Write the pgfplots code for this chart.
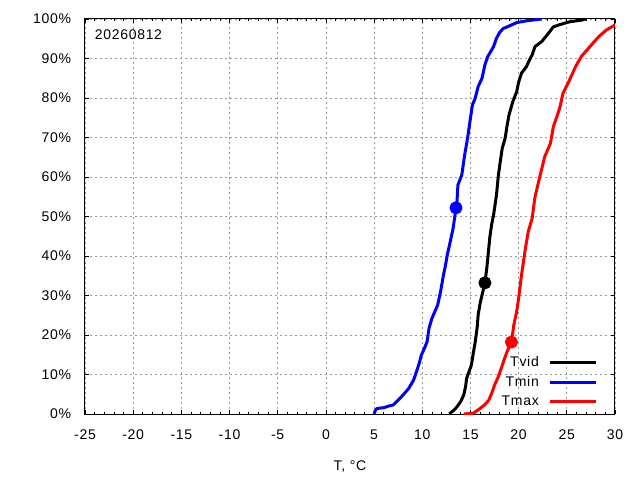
\documentclass[border=0pt]{standalone}
\usepackage{pgfplots}
\pgfplotsset{compat=1.18}
\usepackage{fontspec}
\setmainfont[LetterSpace=5]{Liberation Sans}
\begin{document}
\fontsize{14}{16}\selectfont
\begin{tikzpicture}
\begin{axis}[
  scale only axis,
  width=530pt, height=395pt,
  xmin=-25, xmax=30, ymin=0, ymax=100,
  xtick={-25,-20,...,30},
  xticklabels={-25,-20,-15,-10,-5,0,5,10,15,20,25,30},
  minor x tick num=4,
  ytick={0,10,...,100},
  yticklabels={0\%,10\%,20\%,30\%,40\%,50\%,60\%,70\%,80\%,90\%,100\%},
  tick align=inside,
  major tick length=4pt,
  minor tick length=2.5pt,
  tick style={black, line width=0.8pt},
  axis line style={black, line width=1pt},
  grid=major,
  major grid style={gray!80, dash pattern=on 2pt off 3pt, line width=0.8pt},
  xticklabel style={yshift=-11pt},
  yticklabel style={xshift=-9pt},
  xlabel={T, °C},
  xlabel style={yshift=-11pt},
  legend style={draw=none, fill=none, at={(rel axis cs:1,0)}, anchor=south east,
    xshift=-14pt, yshift=2pt, row sep=3.5pt, column sep=8pt,
    font=\fontsize{14}{16}\selectfont,
    cells={anchor=east}},
  legend plot pos=right,
  legend image code/.code={\draw[#1] (0pt,0pt) -- (46pt,0pt);},
  every axis plot/.append style={line width=3pt, line join=round},
  clip=true,
]
% Tvid (black)
\addplot[black, mark=none] coordinates {
(12.8,0) (13.2,0.8) (13.6,1.8) (14.0,3.2) (14.3,4.8) (14.5,7) (14.6,9) (15.1,12.4)
(15.3,15.5) (15.5,18.3) (15.7,22) (15.8,25.1) (16.0,28) (16.2,30.1) (16.5,33.2)
(16.7,37) (16.8,39.4) (17.0,44.5) (17.2,48) (17.4,50.4) (17.7,55.4) (17.9,60.5)
(18.1,64) (18.3,67.3) (18.6,69.8) (18.8,73) (19.0,75.7) (19.4,79.1) (19.8,81.6)
(20.0,84) (20.3,86.3) (20.8,87.9) (21.1,89.5) (21.4,90.9) (21.7,93) (22.4,94.3)
(22.8,95.5) (23.1,96.4) (23.6,98) (24.3,98.6) (25.3,99.3) (26.5,99.7) (27,100)
};
\addlegendentry{Tvid}
% Tmin (blue)
\addplot[blue, mark=none] coordinates {
(5.0,0) (5.1,0.8) (5.3,1.4) (6.0,1.6) (6.5,2.0) (7.0,2.3) (7.5,3.5) (8.0,4.8)
(8.6,6.5) (9.1,8.6) (9.4,10.7) (9.7,13) (9.9,14.9) (10.2,16.5) (10.5,18.3)
(10.7,21.7) (11.0,24.2) (11.6,27.6) (11.9,31) (12.2,35.2) (12.4,37.5) (12.6,40.3)
(12.9,43.6) (13.2,47) (13.4,50.4) (13.5,52.2) (13.6,53.7) (13.7,58) (14.1,60.5)
(14.4,65.6) (14.7,69.8) (15.0,74.9) (15.2,78.2) (15.5,80) (15.8,82.9) (16.2,85)
(16.5,88.4) (16.8,90.5) (17.4,93) (17.7,95.1) (18.0,96.5) (18.4,97.6) (19.0,98.2)
(19.8,99.1) (21,99.6) (22.4,100)
};
\addlegendentry{Tmin}
% Tmax (red)
\addplot[red, mark=none] coordinates {
(14.3,0) (15.3,0.2) (16.0,1.4) (16.5,2.4) (16.9,3.5) (17.2,5.2) (17.5,7.3)
(17.9,9.5) (18.2,11.6) (18.5,13.8) (18.8,15.8) (19.25,18.2) (19.5,22.5)
(19.8,26) (20.0,29.3) (20.3,35.2) (20.5,38.5) (20.7,41.9) (21.0,46.2) (21.4,49.5)
(21.7,55) (22.2,60.1) (22.7,65.1) (23.3,68.5) (23.6,72.7) (24.0,75.5) (24.3,77.8)
(24.6,81.2) (25.2,84.1) (25.9,87.9) (26.5,90.5) (27.4,93) (28.3,95.5) (29.1,97.2)
(30.0,98.5)
};
\addlegendentry{Tmax}
% markers
\addplot[blue, only marks, mark=*, mark size=5pt, forget plot] coordinates {(13.5,52.2)};
\addplot[black, only marks, mark=*, mark size=5pt, forget plot] coordinates {(16.5,33.2)};
\addplot[red, only marks, mark=*, mark size=5pt, forget plot] coordinates {(19.25,18.2)};
\node[anchor=west] at (rel axis cs:0,1) [xshift=5pt, yshift=-16pt] {20260812};
\end{axis}
\pgfresetboundingbox
\path (-85pt,-66pt) rectangle (555pt,414pt);
\end{tikzpicture}
\end{document}
